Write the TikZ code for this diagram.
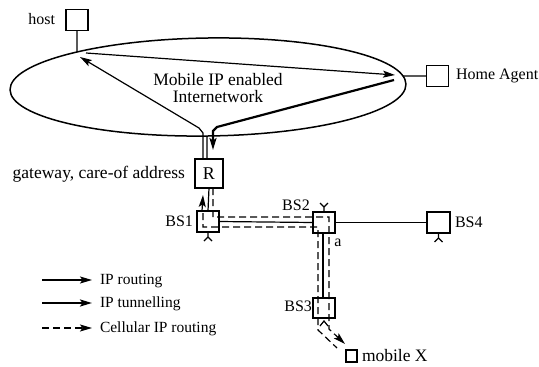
\documentclass[tikz,border=0pt]{standalone}
\usepackage{fontspec}
\setmainfont{Liberation Serif}
\usetikzlibrary{arrows.meta,intersections,calc}
\begin{document}
\begin{tikzpicture}[x=1pt,y=-1pt,
  every node/.style={inner sep=0pt, outer sep=0pt},
  txt/.style={font=\fontsize{16}{18}\selectfont},
  legtxt/.style={font=\fontsize{15.5}{17}\selectfont},
  box/.style={draw, line width=1.2pt, minimum width=22pt, minimum height=21pt},
  wire/.style={line width=1.2pt},
  tipshape/.style={-{Stealth[length=12pt,width=7pt,inset=2.5pt]}},
  routing/.style={line width=1.2pt, tipshape},
  tunnel/.style={line width=2.2pt, tipshape},
  cellular/.style={line width=1.2pt, dash pattern=on 7pt off 4pt},
  antenna/.style={line width=1.2pt}
]
\useasboundingbox (0,0) rectangle (539,367);

% the internetwork cloud
\draw[name path=ell, line width=1.5pt, rotate around={0.8:(208,87)}]
  (208,87) ellipse [x radius=198, y radius=49];
\node[align=center, font=\fontsize{17.5}{17}\selectfont] (net) at (218,88) {Mobile IP enabled\\Internetwork};

% hosts, agents and routers
\node[box] (host) at (77,20) {};
\node[txt, anchor=east] (hostlbl) at (55,19) {host};
\node[box] (ha) at (437.5,76) {};
\node[txt, anchor=west] (halbl) at (456,76) {Home Agent};
\node[box, minimum width=28pt, minimum height=29pt, font=\fontsize{18}{18}\selectfont] (R) at (209,173.5) {R};
\node[anchor=east, font=\fontsize{17.5}{18}\selectfont] (gwlbl) at (185,174) {gateway, care-of address};

% base stations
\node[box] (bs1) at (208,221.5) {};
\node[txt, anchor=east] (bs1lbl) at (193,221) {BS1};
\node[box] (bs2) at (324,222.5) {};
\node[txt] (bs2lbl) at (296,205) {BS2};
\node[box, minimum width=23pt] (bs4) at (438.5,222.5) {};
\node[txt, anchor=west] (bs4lbl) at (455,222) {BS4};
\node[box, minimum height=20pt] (bs3) at (324,308) {};
\node[txt, anchor=east] (bs3lbl) at (312,306) {BS3};
\node[draw, line width=1.2pt, minimum width=11pt, minimum height=12pt] (mob) at (351.5,356) {};
\node[anchor=west, font=\fontsize{17.5}{18}\selectfont] (moblbl) at (362,356) {mobile X};
\node[txt] (alabel) at (338,243) {a};

% attachment points on the cloud
\path[name path=hostv] (host.south) -- (77,80);
\path[name intersections={of=ell and hostv, by=hostfoot}];
\path[name path=hah] (300,76) -- (ha.west);
\path[name intersections={of=ell and hah, by=hafoot}];
\path[name path=rv] ($(R.north)+(-2,0)$) -- (207,110);
\path[name intersections={of=ell and rv, by=rfoot}];

\draw[wire] (host.south) -- (hostfoot);
\draw[wire] (hafoot) -- (ha.west);
\draw[wire] ($(R.north)+(-2,0)$) -- (rfoot);

% fixed wiring
\draw[wire] (R.south) -- (bs1.north);
\draw[wire] (bs1.east) -- (bs2.west);
\draw[wire] (bs2.east) -- (bs4.west);
\draw[wire] ($(bs2.south)+(-1,0)$) -- ($(bs3.north)+(-1,0)$);

% antennas
\draw[antenna] (bs1.south) -- ++(0,5) -- ++(-4,4) ++(4,-4) -- ++(4,4);
\draw[antenna] (bs4.south) -- ++(0,5) -- ++(-4,4) ++(4,-4) -- ++(4,4);
\draw[antenna] (bs2.north) -- ++(0,-5) -- ++(-4,-4) ++(4,4) -- ++(4,-4);
\draw[antenna] ($(bs3.south)+(-4,8)$) -- ++(4,-5) -- ++(4,5);

% IP routing inside the internetwork
\coordinate (rtA) at ($(R.north)+(-6,0)$);
\coordinate (rtB) at (203,133);
\coordinate (rtC) at (199,128);
\coordinate (hostarr) at (80,57);
\draw[routing] (rtA) -- (rtB) -- (rtC) -- (hostarr);
\coordinate (hostsrc) at (86,53);
\coordinate (haarr) at (395,75);
\draw[routing] (hostsrc) -- (haarr);

% IP tunnelling from the home agent to the gateway
\coordinate (tnA) at (394,80);
\coordinate (tnB) at (217,127);
\coordinate (tnC) at (213,131);
\coordinate (tnD) at ($(R.north)+(4,-9)$);
\draw[tunnel] (tnA) -- (tnB) -- (tnC) -- (tnD);

% IP routing from BS1 up towards the gateway
\coordinate (bsup) at ($(R.south)+(-6,7)$);
\draw[routing] ($(bs1.north)+(-6,0)$) -- (bsup);

% cellular IP routing paths
\coordinate (cA1) at ($(R.south)+(4,0)$);
\coordinate (cA2) at (213,217);
\coordinate (cA3) at (329,217);
\coordinate (cA4) at (329,329);
\coordinate (cA5) at (345,344);
\draw[cellular, tipshape] (cA1) -- (cA2) -- (cA3) -- (cA4) -- (cA5);
\coordinate (cB1) at (203,213);
\coordinate (cB2) at (203,227);
\coordinate (cB3) at (318,227);
\coordinate (cB4) at (318,330);
\coordinate (cB5) at (337,348);
\draw[cellular] (cB1) -- (cB2) -- (cB3) -- (cB4) -- (cB5);

% legend
\coordinate (l1a) at (42,280); \coordinate (l1b) at (92,280);
\coordinate (l2a) at (42,303); \coordinate (l2b) at (92,303);
\coordinate (l3a) at (42,328); \coordinate (l3b) at (92,328);
\draw[routing] (l1a) -- (l1b);
\draw[tunnel] (l2a) -- (l2b);
\draw[cellular, tipshape] (l3a) -- (l3b);
\node[legtxt, anchor=west] (leg1) at (100,281) {IP routing};
\node[legtxt, anchor=west] (leg2) at (100,304) {IP tunnelling};
\node[legtxt, anchor=west] (leg3) at (100,329) {Cellular IP routing};
\end{tikzpicture}
\end{document}
